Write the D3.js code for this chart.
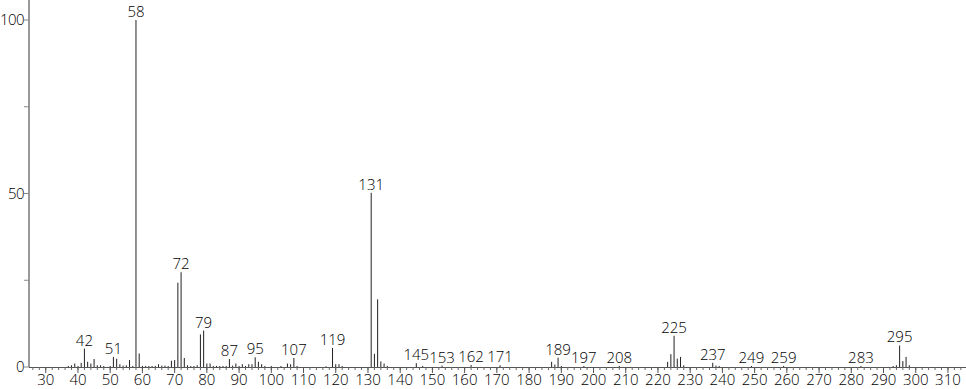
<!DOCTYPE html>
<html>
<head>
<meta charset="utf-8">
<script src="https://cdn.jsdelivr.net/npm/d3@7"></script>
<style>
  html, body { margin: 0; padding: 0; background: #fff; }
  svg { display: block; }
  text { font-family: "Open Sans", sans-serif; font-weight: 300; font-size: 15px; fill: #000; }
</style>
</head>
<body>
<div id="chart"></div>
<script>
const W = 966, H = 389;

// m/z and relative intensity
const masses = [37, 38, 39, 40, 41, 42, 43, 44, 45, 46, 47, 48, 50, 51, 52, 53, 54, 55, 56, 57, 58, 59, 60,
  61, 62, 63, 64, 65, 66, 67, 68, 69, 70, 71, 72, 73, 74, 75, 76, 77, 78, 79, 80, 81, 82, 83, 84, 85, 86, 87, 88, 89, 90,
  91, 92, 93, 94, 95, 96, 97, 98, 100, 103, 105, 106, 107, 108, 117, 119, 120, 121, 122,
  131, 132, 133, 134, 135, 136, 145, 147, 153, 162, 171, 187, 188, 189, 190, 197, 208,
  223, 224, 225, 226, 227, 228, 237, 238, 239, 249, 259, 283, 293, 294, 295, 296, 297, 298];
const intensities = [0.3, 0.5, 1.0, 0.3, 1.2, 5.3, 1.5, 1.0, 2.3, 0.5, 0.5, 0.3, 0.3, 2.9, 2.4, 0.8, 0.4, 0.5, 2.0, 0.3, 100, 3.9, 0.3,
  0.3, 0.3, 0.3, 0.3, 0.8, 0.4, 0.4, 0.3, 1.8, 2.0, 24.3, 27.3, 2.6, 0.5, 0.3, 0.3, 0.5, 9.4, 10.5, 1.0, 1.0, 0.3, 0.3, 0.3, 0.3, 0.3, 2.3, 0.4, 1.0, 0.3,
  0.8, 0.3, 0.8, 0.8, 2.8, 1.5, 0.8, 0.3, 0.3, 0.3, 1.0, 0.8, 2.6, 0.3, 0.2, 5.5, 0.8, 0.8, 0.3,
  50.2, 3.8, 19.5, 1.6, 1.0, 0.3, 1.1, 0.3, 0.4, 0.6, 0.5, 1.5, 0.7, 2.7, 0.3, 0.3, 0.3,
  1.5, 3.7, 9.0, 2.4, 2.9, 0.5, 1.2, 0.4, 0.3, 0.3, 0.3, 0.3, 0.3, 0.5, 6.2, 1.7, 2.9, 0.5];
const labelled = [42, 51, 58, 72, 79, 87, 95, 107, 119, 131, 145, 153, 162, 171, 189, 197, 208, 225, 237, 249, 259, 283, 295];
const xTicks = d3.range(30, 311, 10);
const xMinor = d3.range(26, 315, 2);
const yTicks = [0, 50, 100];
const yMinor = [25, 75];

const peaks = masses.map((m, i) => ({ m, v: intensities[i] }));

const x = d3.scaleLinear().domain([24.8, 315.6]).range([29, 966]);
const y = d3.scaleLinear().domain([0, 100]).range([367, 20]);

const svg = d3.select("#chart").append("svg").attr("width", W).attr("height", H);

// y axis
svg.append("line").attr("x1", 29).attr("x2", 29).attr("y1", 0).attr("y2", y(0))
  .attr("stroke", "#999").attr("stroke-width", 2);
svg.append("g").selectAll("line").data(yMinor.concat(yTicks)).join("line")
  .attr("x1", 24).attr("x2", 29).attr("y1", (d) => y(d)).attr("y2", (d) => y(d))
  .attr("stroke", "#888");
svg.append("g").selectAll("text").data(yTicks).join("text")
  .attr("x", 24).attr("y", (d) => y(d)).attr("dy", "0.35em").attr("text-anchor", "end")
  .attr("letter-spacing", "-0.6")
  .text((d) => d);

// x axis
svg.append("line").attr("x1", 29).attr("x2", W).attr("y1", y(0) + 0.5).attr("y2", y(0) + 0.5)
  .attr("stroke", "#555");
svg.append("g").selectAll("line").data(xMinor).join("line")
  .attr("x1", (d) => x(d)).attr("x2", (d) => x(d)).attr("y1", y(0)).attr("y2", y(0) + 3)
  .attr("stroke", "#666");
svg.append("g").selectAll("line").data(xTicks).join("line")
  .attr("x1", (d) => x(d)).attr("x2", (d) => x(d)).attr("y1", y(0)).attr("y2", y(0) + 6)
  .attr("stroke", "#555");
svg.append("g").selectAll("text").data(xTicks).join("text")
  .attr("x", (d) => x(d)).attr("y", 385).attr("text-anchor", "middle")
  .text((d) => d);

// peaks
svg.append("g").selectAll("line").data(peaks).join("line")
  .attr("x1", (d) => x(d.m)).attr("x2", (d) => x(d.m))
  .attr("y1", y(0)).attr("y2", (d) => y(d.v))
  .attr("stroke", "#222").attr("stroke-width", 1);

// peak labels
svg.append("g").selectAll("text").data(peaks.filter((d) => labelled.includes(d.m))).join("text")
  .attr("x", (d) => x(d.m)).attr("y", (d) => y(d.v) - 3).attr("text-anchor", "middle")
  .text((d) => d.m);
</script>
</body>
</html>
